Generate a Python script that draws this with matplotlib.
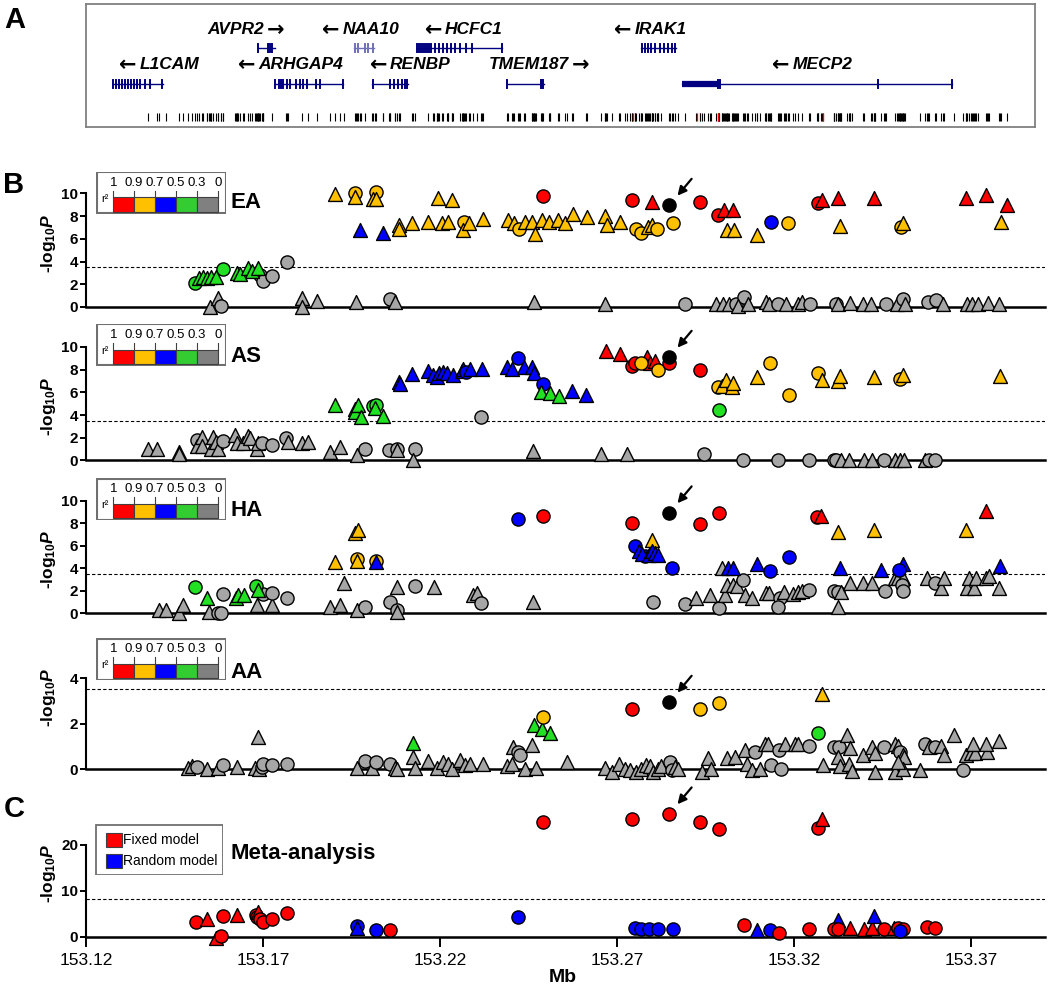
import matplotlib.pyplot as plt
import numpy as np
from matplotlib.patches import Rectangle

plt.rcParams['font.family'] = ['Liberation Sans', 'DejaVu Sans']
plt.rcParams['mathtext.fontset'] = 'custom'
plt.rcParams['mathtext.rm'] = 'Liberation Sans:bold'
plt.rcParams['mathtext.it'] = 'Liberation Sans:bold:italic'
plt.rcParams['mathtext.bf'] = 'Liberation Sans:bold'

# ---------------- data ----------------
index_snp = 153.2848

# EA
ea_pos = [153.1550, 153.1573, 153.1581, 153.1809, 153.1809, 153.1852, 153.1692, 153.1700, 153.1725, 153.1767,
          153.1962, 153.2058, 153.2074, 153.2465, 153.2666, 153.2892, 153.2980, 153.2999, 153.3015, 153.3037,
          153.3060, 153.3043, 153.3069, 153.3120, 153.3130, 153.3156, 153.3178, 153.3210, 153.3223, 153.3245,
          153.3318, 153.3325, 153.3357, 153.3395, 153.3417, 153.3459, 153.3491, 153.3508, 153.3514, 153.3578,
          153.3600, 153.3622, 153.3690, 153.3702, 153.3719, 153.3747, 153.3779,
          153.1508, 153.1519, 153.1531, 153.1542, 153.1553, 153.1567, 153.1586, 153.1626, 153.1635, 153.1658,
          153.1669, 153.1686,
          153.1903, 153.1960, 153.1960, 153.2019, 153.2010, 153.2019, 153.1975, 153.2039, 153.2084, 153.2084,
          153.2122, 153.2167, 153.2206, 153.2222, 153.2269, 153.2265, 153.2282, 153.2321, 153.2193, 153.2235,
          153.2491, 153.2391, 153.2408, 153.2423, 153.2440, 153.2461, 153.2468, 153.2489, 153.2508, 153.2532,
          153.2553, 153.2576, 153.2615, 153.2666, 153.2672, 153.2708, 153.2755, 153.2768, 153.2788, 153.2800,
          153.2813, 153.2858, 153.2743, 153.2798, 153.2934, 153.2986, 153.3002, 153.3027, 153.3011, 153.3031,
          153.3095, 153.3135, 153.3184, 153.3267, 153.3280, 153.3325, 153.3329, 153.3427, 153.3501, 153.3508,
          153.3687, 153.3743, 153.3802, 153.3785]
ea_logp = [0.0, 0.8, 0.05, 0.8, 0.0, 0.5, 2.8, 2.3, 2.7, 4.0,
           0.4, 0.7, 0.45, 0.45, 0.25, 0.3, 0.25, 0.25, 0.3, 0.3,
           0.9, 0.1, 0.25, 0.45, 0.3, 0.25, 0.3, 0.25, 0.45, 0.3,
           0.3, 0.25, 0.35, 0.3, 0.3, 0.3, 0.3, 0.7, 0.25, 0.45,
           0.6, 0.3, 0.25, 0.3, 0.25, 0.35, 0.25,
           2.15, 2.55, 2.6, 2.55, 2.65, 2.6, 3.3, 3.0, 2.9, 3.4,
           3.2, 3.4,
           9.9, 10.0, 9.7, 10.15, 9.5, 9.5, 6.8, 6.5, 7.2, 6.9,
           7.4, 7.5, 7.35, 7.5, 7.5, 6.8, 7.35, 7.7, 9.55, 9.4,
           9.75, 7.65, 7.4, 6.9, 7.5, 7.5, 6.4, 7.65, 7.5, 7.65,
           7.4, 8.2, 7.9, 8.0, 7.2, 7.5, 6.9, 6.5, 7.05, 7.2,
           6.9, 7.4, 9.4, 9.25, 9.2, 8.1, 8.5, 8.5, 6.8, 6.8,
           6.3, 7.5, 7.35, 9.15, 9.4, 9.55, 7.1, 9.6, 7.05, 7.4,
           9.6, 9.85, 8.95, 7.5]
ea_kind = ['k^', 'k^', 'ko', 'k^', 'k^', 'k^', 'ko', 'ko', 'ko', 'ko',
           'k^', 'ko', 'k^', 'k^', 'k^', 'ko', 'k^', 'k^', 'k^', 'ko',
           'ko', 'k^', 'k^', 'k^', 'k^', 'ko', 'k^', 'k^', 'k^', 'ko',
           'ko', 'k^', 'k^', 'k^', 'k^', 'ko', 'k^', 'ko', 'k^', 'ko',
           'ko', 'k^', 'k^', 'k^', 'k^', 'k^', 'k^',
           'go', 'g^', 'g^', 'g^', 'g^', 'g^', 'go', 'g^', 'g^', 'g^',
           'g^', 'g^',
           'y^', 'yo', 'y^', 'yo', 'y^', 'y^', 'b^', 'b^', 'y^', 'y^',
           'y^', 'y^', 'y^', 'y^', 'yo', 'y^', 'y^', 'y^', 'y^', 'y^',
           'ro', 'y^', 'y^', 'yo', 'y^', 'y^', 'y^', 'y^', 'y^', 'y^',
           'y^', 'y^', 'y^', 'y^', 'y^', 'y^', 'yo', 'yo', 'y^', 'y^',
           'yo', 'yo', 'ro', 'r^', 'ro', 'ro', 'r^', 'r^', 'y^', 'y^',
           'y^', 'bo', 'yo', 'ro', 'r^', 'r^', 'y^', 'r^', 'yo', 'y^',
           'r^', 'r^', 'r^', 'y^']
ea_index_logp = 8.95

# AS
as_pos = [153.1376, 153.1400, 153.1464, 153.1464, 153.1513, 153.1513, 153.1527, 153.1527, 153.1552, 153.1559,
          153.1567, 153.1574, 153.1586, 153.1621, 153.1627, 153.1644, 153.1658, 153.1663, 153.1682, 153.1687,
          153.1696, 153.1725, 153.1765, 153.1771, 153.1809, 153.1828, 153.1889, 153.1918, 153.1965, 153.1988,
          153.2057, 153.2078, 153.2078, 153.2129, 153.2125, 153.2316, 153.2462, 153.2655, 153.2727, 153.2946,
          153.3056, 153.3156, 153.3242, 153.3312, 153.3318, 153.3332, 153.3356, 153.3397, 153.3419, 153.3455,
          153.3485, 153.3499, 153.3512, 153.3571, 153.3581, 153.3598,
          153.1903, 153.1960, 153.1960, 153.1968, 153.1977, 153.2010, 153.2019, 153.2016, 153.2040,
          153.2084, 153.2087, 153.2122, 153.2167, 153.2181, 153.2192, 153.2198, 153.2209, 153.2219, 153.2236,
          153.2261, 153.2266, 153.2273, 153.2285, 153.2318, 153.2388, 153.2403, 153.2421, 153.2437, 153.2459,
          153.2466, 153.2491, 153.2485, 153.2510, 153.2536, 153.2574, 153.2612,
          153.2669, 153.2708, 153.2741, 153.2751, 153.2784, 153.2793, 153.2807, 153.2768, 153.2815, 153.2848,
          153.2934, 153.2984, 153.2998, 153.3008, 153.3025, 153.3029, 153.2989, 153.3096, 153.3132, 153.3185,
          153.3268, 153.3280, 153.3323, 153.3331, 153.3426, 153.3499, 153.3509, 153.3783]
as_logp = [1.0, 1.0, 0.75, 0.6, 1.8, 1.25, 2.1, 1.3, 1.05, 2.1,
           1.65, 1.05, 1.75, 2.25, 1.5, 1.55, 2.15, 1.95, 1.05, 1.55,
           1.5, 1.35, 1.95, 1.65, 1.5, 1.65, 0.75, 1.2, 0.5, 1.05,
           0.9, 1.05, 0.9, 1.05, 0.0, 3.8, 0.8, 0.6, 0.55, 0.6,
           0.0, 0.0, 0.0, 0.0, 0.0, 0.05, 0.05, 0.05, 0.05, 0.0,
           0.05, 0.05, 0.05, 0.05, 0.0, 0.0,
           4.85, 4.5, 4.3, 4.85, 3.8, 4.8, 4.85, 4.65, 3.9,
           6.9, 6.75, 7.65, 7.9, 7.5, 7.4, 7.7, 7.8, 7.7, 7.5,
           7.9, 8.1, 7.8, 8.1, 8.1, 8.2, 8.1, 9.05, 8.2, 8.2,
           7.7, 6.75, 6.05, 5.95, 5.65, 6.15, 5.75,
           9.65, 9.35, 8.3, 8.6, 9.1, 8.6, 8.8, 8.6, 7.95, 8.6,
           8.0, 6.45, 6.55, 7.05, 6.45, 6.85, 4.45, 7.35, 8.55, 5.75,
           7.7, 7.05, 7.0, 7.45, 7.35, 7.2, 7.5, 7.45]
as_kind = ['k^', 'k^', 'k^', 'k^', 'ko', 'k^', 'k^', 'k^', 'k^', 'k^',
           'k^', 'k^', 'ko', 'k^', 'k^', 'k^', 'k^', 'k^', 'k^', 'k^',
           'ko', 'ko', 'ko', 'k^', 'k^', 'k^', 'k^', 'k^', 'k^', 'ko',
           'ko', 'ko', 'k^', 'ko', 'k^', 'ko', 'k^', 'k^', 'k^', 'ko',
           'ko', 'ko', 'ko', 'ko', 'ko', 'k^', 'k^', 'k^', 'k^', 'ko',
           'k^', 'k^', 'k^', 'k^', 'ko', 'ko',
           'g^', 'g^', 'g^', 'g^', 'g^', 'go', 'go', 'g^', 'g^',
           'b^', 'b^', 'b^', 'b^', 'b^', 'b^', 'b^', 'b^', 'b^', 'b^',
           'b^', 'b^', 'bo', 'b^', 'b^', 'b^', 'b^', 'bo', 'b^', 'b^',
           'b^', 'bo', 'g^', 'g^', 'g^', 'b^', 'b^',
           'r^', 'r^', 'ro', 'ro', 'r^', 'r^', 'r^', 'yo', 'yo', 'ro',
           'ro', 'yo', 'y^', 'y^', 'y^', 'y^', 'go', 'y^', 'yo', 'yo',
           'yo', 'y^', 'y^', 'y^', 'y^', 'yo', 'y^', 'y^']
as_index_logp = 9.1

# HA
ha_pos = [153.1407, 153.1426, 153.1464, 153.1475, 153.1548, 153.1574, 153.1580, 153.1588, 153.1682, 153.1699,
          153.1725, 153.1725, 153.1767, 153.1889, 153.1918, 153.1929, 153.1965, 153.1988, 153.2059, 153.2078,
          153.2078, 153.2078, 153.2129, 153.2183, 153.2294, 153.2305, 153.2316, 153.2462, 153.2803, 153.2892,
          153.2989, 153.2922, 153.2962, 153.3006, 153.3010, 153.3029, 153.3039, 153.3056, 153.3061, 153.3080,
          153.3121, 153.3130, 153.3161, 153.3156, 153.3172, 153.3197, 153.3210, 153.3223, 153.3242, 153.2997,
          153.3313, 153.3323, 153.3334, 153.3323, 153.3359, 153.3395, 153.3419, 153.3457, 153.3485, 153.3495,
          153.3509, 153.3505, 153.3509, 153.3576, 153.3598, 153.3614, 153.3624, 153.3690, 153.3709, 153.3695,
          153.3714, 153.3743, 153.3751, 153.3779,
          153.1508, 153.1541, 153.1624, 153.1630, 153.1646, 153.1680, 153.1687,
          153.1903, 153.1960, 153.1968, 153.1965, 153.1965, 153.2019, 153.2019, 153.2421, 153.2491, 153.2741,
          153.2752, 153.2779, 153.2799, 153.2762, 153.2771, 153.2789, 153.2798, 153.2798, 153.2808, 153.2817,
          153.2855, 153.2934, 153.2987, 153.3013, 153.3029, 153.3096, 153.3132, 153.3185, 153.3266, 153.3277,
          153.3323, 153.3426, 153.3686, 153.3743, 153.3331, 153.3447, 153.3509, 153.3497, 153.3783]
ha_logp = [0.3, 0.3, 0.0, 0.75, 0.15, 0.05, 0.05, 1.75, 0.75, 1.75,
           0.75, 1.8, 1.4, 0.6, 0.75, 2.7, 0.3, 0.55, 1.05, 0.3,
           0.15, 2.3, 2.45, 2.3, 1.65, 1.8, 0.9, 1.05, 1.05, 0.8,
           0.5, 1.4, 1.65, 1.6, 2.55, 2.55, 2.4, 3.0, 1.6, 1.35,
           1.8, 1.8, 1.35, 0.6, 1.9, 1.7, 1.9, 1.95, 2.1, 4.0,
           2.0, 1.9, 1.9, 0.6, 2.7, 2.7, 2.7, 1.95, 3.15, 3.15,
           3.15, 2.55, 1.95, 3.15, 2.7, 2.25, 3.15, 2.25, 2.25, 3.1,
           3.1, 3.15, 3.3, 2.25,
           2.3, 1.4, 1.35, 1.65, 1.65, 2.4, 2.1,
           4.55, 7.15, 7.4, 4.85, 4.7, 4.7, 4.55, 8.4, 8.65, 8.05,
           5.95, 5.1, 5.15, 5.55, 5.25, 5.2, 6.55, 5.55, 5.4, 5.2,
           4.0, 7.95, 8.9, 4.0, 4.0, 4.4, 3.75, 5.0, 8.6, 8.65,
           7.25, 7.45, 7.45, 9.15, 4.05, 3.9, 4.35, 3.9, 4.2]
ha_kind = ['k^', 'k^', 'k^', 'k^', 'k^', 'ko', 'ko', 'ko', 'k^', 'ko',
           'k^', 'ko', 'ko', 'k^', 'k^', 'k^', 'k^', 'ko', 'ko', 'ko',
           'k^', 'k^', 'ko', 'k^', 'k^', 'k^', 'ko', 'k^', 'ko', 'ko',
           'ko', 'k^', 'k^', 'k^', 'k^', 'k^', 'k^', 'ko', 'k^', 'k^',
           'k^', 'k^', 'ko', 'ko', 'k^', 'k^', 'k^', 'k^', 'ko', 'k^',
           'ko', 'ko', 'k^', 'k^', 'k^', 'k^', 'k^', 'ko', 'k^', 'k^',
           'k^', 'ko', 'ko', 'k^', 'ko', 'k^', 'k^', 'k^', 'k^', 'k^',
           'k^', 'k^', 'k^', 'k^',
           'go', 'g^', 'g^', 'g^', 'g^', 'go', 'g^',
           'y^', 'y^', 'y^', 'yo', 'y^', 'yo', 'b^', 'bo', 'ro', 'ro',
           'bo', 'bo', 'bo', 'b^', 'b^', 'b^', 'y^', 'b^', 'b^', 'b^',
           'bo', 'ro', 'ro', 'b^', 'b^', 'b^', 'bo', 'bo', 'ro', 'r^',
           'y^', 'y^', 'y^', 'r^', 'b^', 'b^', 'b^', 'bo', 'b^']
ha_index_logp = 8.95

# AA
aa_pos = [153.1489, 153.1499, 153.1513, 153.1541, 153.1574, 153.1588, 153.1627, 153.1677, 153.1690, 153.1696,
          153.1701, 153.1725, 153.1767, 153.1687, 153.1965, 153.1988, 153.2007, 153.2019, 153.2059, 153.2073,
          153.2078, 153.2125, 153.2129, 153.2167, 153.2191, 153.2209, 153.2223, 153.2233, 153.2256, 153.2271,
          153.2285, 153.2321, 153.2388, 153.2403, 153.2407, 153.2421, 153.2426, 153.2459, 153.2440, 153.2472,
          153.2560, 153.2665, 153.2686, 153.2705, 153.2722, 153.2736, 153.2755, 153.2769, 153.2781, 153.2793,
          153.2803, 153.2817, 153.2825, 153.2851, 153.2855, 153.2865, 153.2873, 153.2941, 153.2956, 153.2965,
          153.3010, 153.3032, 153.3061, 153.3067, 153.3080, 153.3089, 153.3104, 153.3118, 153.3127, 153.3134,
          153.3159, 153.3163, 153.3175, 153.3204, 153.3210, 153.3242, 153.3283, 153.3314, 153.3328, 153.3323,
          153.3331, 153.3350, 153.3356, 153.3359, 153.3363, 153.3395, 153.3419, 153.3428, 153.3430, 153.3455,
          153.3485, 153.3495, 153.3500, 153.3509, 153.3512, 153.3485, 153.3509, 153.3495, 153.3557, 153.3571,
          153.3581, 153.3598, 153.3614, 153.3624, 153.3652, 153.3676, 153.3686, 153.3700, 153.3712, 153.3705,
          153.3745, 153.3743, 153.3779,
          153.2125, 153.2466, 153.2488, 153.2512, 153.2491, 153.2743, 153.2935, 153.2987, 153.3280, 153.3268]
aa_logp = [0.05, 0.15, 0.1, 0.0, 0.05, 0.2, 0.1, 0.05, 0.0, 0.1,
           0.25, 0.2, 0.25, 1.4, 0.05, 0.35, 0.05, 0.3, 0.25, 0.05,
           0.0, 0.55, 0.05, 0.35, 0.05, 0.3, 0.25, 0.0, 0.4, 0.2,
           0.25, 0.25, 0.15, 0.25, 1.0, 0.75, 0.65, 1.07, 0.0, 0.05,
           0.3, 0.06, -0.1, 0.25, 0.03, -0.05, -0.1, 0.03, 0.18, 0.15,
           -0.1, 0.03, 0.15, 0.33, -0.05, 0.11, 0.03, -0.1, 0.48, 0.0,
           0.48, 0.52, 0.85, 0.25, -0.04, 0.76, 0.0, 1.1, 1.1, 0.21,
           0.85, 0.03, 1.1, 1.1, 1.1, 1.04, 0.21, 1.0, 1.0, 0.55,
           0.15, 1.5, 0.25, 0.95, -0.08, 0.62, 1.0, 0.7, -0.1, 1.0,
           1.1, 1.04, 0.78, 0.62, 0.55, -0.1, 0.03, 0.33, -0.04, 1.1,
           1.0, 1.0, 1.04, 0.65, 1.5, -0.04, 0.65, 0.7, 0.7, 1.1,
           0.76, 1.1, 1.25,
           1.17, 1.95, 1.75, 1.6, 2.3, 2.65, 2.65, 2.9, 3.3, 1.6]
aa_kind = ['k^', 'k^', 'ko', 'k^', 'k^', 'ko', 'k^', 'k^', 'k^', 'ko',
           'ko', 'ko', 'ko', 'k^', 'k^', 'ko', 'k^', 'ko', 'ko', 'k^',
           'k^', 'k^', 'k^', 'k^', 'k^', 'k^', 'k^', 'k^', 'k^', 'k^',
           'k^', 'k^', 'k^', 'k^', 'k^', 'ko', 'ko', 'k^', 'k^', 'k^',
           'k^', 'k^', 'k^', 'k^', 'k^', 'k^', 'k^', 'k^', 'k^', 'k^',
           'k^', 'k^', 'k^', 'ko', 'ko', 'k^', 'k^', 'k^', 'k^', 'k^',
           'k^', 'k^', 'k^', 'k^', 'k^', 'ko', 'k^', 'k^', 'k^', 'ko',
           'ko', 'ko', 'k^', 'k^', 'k^', 'ko', 'k^', 'ko', 'ko', 'k^',
           'k^', 'k^', 'k^', 'k^', 'k^', 'k^', 'k^', 'k^', 'k^', 'ko',
           'k^', 'k^', 'ko', 'k^', 'k^', 'k^', 'k^', 'k^', 'k^', 'ko',
           'k^', 'ko', 'k^', 'k^', 'k^', 'ko', 'k^', 'k^', 'k^', 'k^',
           'k^', 'k^', 'k^',
           'g^', 'g^', 'g^', 'g^', 'yo', 'ro', 'yo', 'yo', 'y^', 'go']
aa_index_logp = 2.95

# Meta-analysis (r = fixed model, b = random model)
meta_pos = [153.1511, 153.1541, 153.1588, 153.1627, 153.1680, 153.1684, 153.1687, 153.1692, 153.1701, 153.1725,
            153.1767, 153.1567, 153.1580, 153.1965, 153.1966, 153.2019, 153.2059, 153.2421,
            153.2751, 153.2769, 153.2791, 153.2815, 153.2857, 153.3058, 153.3096, 153.3132, 153.3159, 153.3242,
            153.3323, 153.3314, 153.3323, 153.3359, 153.3397, 153.3419, 153.3426, 153.3455, 153.3483, 153.3495,
            153.3509, 153.3500, 153.3576, 153.3598,
            153.2491, 153.2743, 153.2848, 153.2935, 153.2987, 153.3268, 153.3280]
meta_logp = [3.3, 3.8, 4.5, 4.7, 4.7, 4.35, 5.45, 3.8, 3.3, 3.8,
             5.1, -0.35, 0.15, 2.35, 1.85, 1.45, 1.45, 4.2,
             1.9, 1.75, 1.75, 1.6, 1.75, 2.5, 1.4, 1.4, 0.9, 1.6,
             3.6, 1.75, 1.6, 1.9, 1.6, 1.9, 4.55, 1.75, 1.9, 1.9,
             1.75, 1.15, 2.1, 1.9,
             25.0, 25.7, 26.8, 25.0, 23.5, 23.7, 25.7]
meta_kind = ['ro', 'r^', 'ro', 'r^', 'ro', 'ro', 'r^', 'ro', 'ro', 'ro',
             'ro', 'r^', 'ro', 'bo', 'b^', 'bo', 'ro', 'bo',
             'bo', 'bo', 'bo', 'bo', 'bo', 'ro', 'b^', 'bo', 'ro', 'ro',
             'b^', 'ro', 'ro', 'r^', 'r^', 'r^', 'b^', 'ro', 'r^', 'ro',
             'ro', 'bo', 'ro', 'ro',
             'ro', 'ro', 'ro', 'ro', 'ro', 'ro', 'r^']
meta_index_logp = 26.8

# genes (panel A)
gene_names = ['AVPR2', 'NAA10', 'HCFC1', 'IRAK1', 'L1CAM', 'ARHGAP4', 'RENBP', 'TMEM187', 'MECP2']
gene_strand = ['+', '-', '-', '-', '-', '-', '-', '+', '-']
gene_row = [0, 0, 0, 0, 1, 1, 1, 1, 1]
gene_start = [153.1686, 153.1956, 153.2134, 153.2769, 153.1275, 153.1733, 153.2009, 153.2389, 153.2883]
gene_end = [153.1733, 153.2013, 153.2375, 153.2868, 153.1417, 153.1926, 153.2111, 153.2493, 153.3647]
gene_label_x = [153.1656, 153.1970, 153.2262, 153.2788, 153.1402, 153.1773, 153.2111, 153.2485, 153.3247]
gene_exons = [
    [153.1686, 153.1714, 153.1718, 153.1722, 153.1726],
    [153.1960, 153.1969, 153.1989, 153.1997, 153.2011],
    [153.2135, 153.2141, 153.2146, 153.2152, 153.2158, 153.2163, 153.2169, 153.2175, 153.2186, 153.2197,
     153.2208, 153.2220, 153.2231, 153.2242, 153.2256, 153.2273, 153.2290, 153.2375],
    [153.2771, 153.2779, 153.2788, 153.2796, 153.2807, 153.2821, 153.2832, 153.2844, 153.2855, 153.2863],
    [153.1276, 153.1285, 153.1293, 153.1302, 153.1310, 153.1319, 153.1327, 153.1336, 153.1344, 153.1353,
     153.1367, 153.1381, 153.1415],
    [153.1734, 153.1745, 153.1751, 153.1756, 153.1768, 153.1776, 153.1793, 153.1805, 153.1813, 153.1824,
     153.1850, 153.1861, 153.1926],
    [153.2011, 153.2059, 153.2070, 153.2082, 153.2093, 153.2101, 153.2107],
    [153.2389, 153.2484, 153.2487, 153.2490],
    [153.2985, 153.2991, 153.3438, 153.3647],
]
mecp2_utr = (153.2883, 153.2985)
red_snp_ticks = [153.2745, 153.2925, 153.2985, 153.3281]

r2_labels = ['1', '0.9', '0.7', '0.5', '0.3', '0']
r2_colors = ['#ff0000', '#ffc000', '#0000ff', '#33cc33', '#808080']

fill = {'r': '#ff0000', 'y': '#ffc000', 'b': '#0000ff', 'g': '#22e022', 'k': '#a6a6a6', 'x': '#000000'}

# ---------------- figure ----------------
W, H = 1050, 990
fig = plt.figure(figsize=(W / 100, H / 100), dpi=100)
x0, x1 = 153.12, 153.12 + (1045 - 86) / 3540.0


def fax(left, top, right, bottom):
    return fig.add_axes([left / W, 1 - bottom / H, (right - left) / W, (bottom - top) / H])


def points(ax, pos, logp, kind):
    for x, y, k in zip(pos, logp, kind):
        ax.scatter(x, y, s=100 if k[1] == '^' else 90, marker=k[1], c=fill[k[0]],
                   edgecolors='k', linewidths=1.0, clip_on=False, zorder=3)


def frame(ax, top, ticks, thr):
    ax.set_xlim(x0, x1)
    ax.set_ylim(0, top)
    ax.set_facecolor('none')
    for s in ['top', 'right']:
        ax.spines[s].set_visible(False)
    ax.spines['left'].set_linewidth(1.5)
    ax.spines['bottom'].set_linewidth(1.8)
    ax.set_yticks(ticks)
    ax.set_yticklabels([str(t) for t in ticks], fontweight='bold')
    ax.tick_params(axis='y', direction='out', length=4, width=1.4, labelsize=11, pad=1.5)
    ax.axhline(thr, ls=(0, (3, 2)), lw=0.8, color='k', zorder=1)


def arrow(ax, x, y):
    ax.annotate('', xy=(x, y), xytext=(16, 19), textcoords='offset points',
                arrowprops=dict(arrowstyle='-|>', color='k', lw=1.6, shrinkA=0, shrinkB=9,
                                mutation_scale=13), annotation_clip=False)


def r2_box(top):
    b = fax(96, top, 226, top + 42)
    b.set_xlim(0, 130)
    b.set_ylim(42, 0)
    b.axis('off')
    b.add_patch(Rectangle((0.5, 0.5), 129, 41, fill=False, ec='#707070', lw=1.5))
    edges = [17.3, 38, 59, 79.7, 100.7, 122.3]
    for i, c in enumerate(r2_colors):
        b.add_patch(Rectangle((edges[i], 25.7), edges[i + 1] - edges[i], 14.3, fc=c, ec='#404040', lw=0.8))
    for e, lab in zip(edges, r2_labels):
        b.plot([e, e], [19, 25.7], color='#404040', lw=0.8)
        b.text(e, 11, lab, ha='center', va='center', fontsize=9.5)
    b.text(9, 27, 'r²', ha='center', va='center', fontsize=8)


ylab = r'-log$_{10}$$\it{P}$'

# panel A
ga = fax(86, 4, 1035, 127)
ga.set_xlim(153.12, 153.12 + (1035 - 86) / 3540.0)
ga.set_ylim(0, 1)
ga.set_xticks([])
ga.set_yticks([])
for s in ga.spines.values():
    s.set_color('#808080')
    s.set_linewidth(1.3)
label_y = [0.79, 0.505]
body_y = [0.642, 0.35]
navy = '#000080'
shift = 0.0034
for name, st, row, a, b_, lx, ex in zip(gene_names, gene_strand, gene_row, gene_start, gene_end,
                                        gene_label_x, gene_exons):
    col = '#7070b8' if name == 'NAA10' else navy
    ga.plot([a, b_], [body_y[row]] * 2, color=col, lw=1.0)
    for e in ex:
        ga.plot([e, e], [body_y[row] - 0.035, body_y[row] + 0.035], color=col, lw=1.4)
    if st == '+':
        t = ga.text(lx - shift, label_y[row], name, ha='center', va='center', fontsize=12.5,
                    fontweight='bold', fontstyle='italic')
        ga.annotate('→', xy=(1, 0.5), xycoords=t, xytext=(2, 0), textcoords='offset points',
                    ha='left', va='center', fontsize=15, fontweight='bold', family='DejaVu Sans')
    else:
        t = ga.text(lx + shift, label_y[row], name, ha='center', va='center', fontsize=12.5,
                    fontweight='bold', fontstyle='italic')
        ga.annotate('←', xy=(0, 0.5), xycoords=t, xytext=(-2, 0), textcoords='offset points',
                    ha='right', va='center', fontsize=15, fontweight='bold', family='DejaVu Sans')
ga.plot(mecp2_utr, [body_y[1]] * 2, color=navy, lw=4.5, solid_capstyle='butt')
snp_ticks = np.unique(np.round(np.concatenate([ea_pos, as_pos, ha_pos, aa_pos]), 4))
ga.vlines(snp_ticks, 0.05, 0.115, color='k', lw=0.8)
ga.vlines(red_snp_ticks, 0.05, 0.115, color='red', lw=0.9)

# panel B
panels = [
    (ea_pos, ea_logp, ea_kind, ea_index_logp, 'EA', 193.3, 307, 10, [0, 2, 4, 6, 8, 10], 3.5, 171.7, 203, 243),
    (as_pos, as_logp, as_kind, as_index_logp, 'AS', 347, 460.5, 10, [0, 2, 4, 6, 8, 10], 3.5, 324, 356, 406),
    (ha_pos, ha_logp, ha_kind, ha_index_logp, 'HA', 501, 613.3, 10, [0, 2, 4, 6, 8, 10], 3.5, 478.3, 510, 559),
    (aa_pos, aa_logp, aa_kind, aa_index_logp, 'AA', 678.3, 769.3, 4, [0, 2, 4], 3.55, 638.3, 672, 697),
]
for pos, lp, kd, ilp, name, top, bot, ymax, ticks, thr, boxtop, namey, laby in panels:
    ax = fax(86, top, 1045, bot)
    frame(ax, ymax, ticks, thr)
    ax.set_xticks([])
    points(ax, pos, lp, kd)
    ax.scatter(index_snp, ilp, s=90, marker='o', c='k', edgecolors='k', clip_on=False, zorder=4)
    arrow(ax, index_snp, ilp)
    r2_box(boxtop)
    fig.text(230 / W, 1 - namey / H, name, fontsize=16, fontweight='bold', va='center')
    fig.text(49 / W, 1 - laby / H, ylab, rotation=90, fontsize=12.5, fontweight='bold',
             ha='center', va='center')

# panel C
cx = fax(86, 845, 1045, 936.7)
frame(cx, 20, [0, 10, 20], 8.3)
points(cx, meta_pos, meta_logp, meta_kind)
arrow(cx, index_snp, meta_index_logp)
xt = [153.12, 153.17, 153.22, 153.27, 153.32, 153.37]
cx.set_xticks(xt)
cx.set_xticklabels(['%.2f' % t for t in xt])
cx.tick_params(axis='x', direction='out', length=7, width=1.4, labelsize=12.5, pad=5)
fig.text(49 / W, 1 - 873 / H, ylab, rotation=90, fontsize=12.5, fontweight='bold', ha='center', va='center')
fig.text(230 / W, 1 - 853 / H, 'Meta-analysis', fontsize=16, fontweight='bold', va='center')
fig.text(563 / W, 1 - 978 / H, 'Mb', fontsize=14, fontweight='bold', ha='center', va='center')

lg = fax(95, 824, 223, 875)
lg.set_xlim(0, 128)
lg.set_ylim(51, 0)
lg.axis('off')
lg.add_patch(Rectangle((0.5, 0.5), 127, 50, fill=False, ec='#707070', lw=1.3))
lg.add_patch(Rectangle((11, 9), 15.5, 14, fc='#ff0000', ec='#404040', lw=0.8))
lg.add_patch(Rectangle((11, 30), 15.5, 14, fc='#0000ff', ec='#404040', lw=0.8))
lg.text(28, 16, 'Fixed model', fontsize=10, va='center')
lg.text(28, 37, 'Random model', fontsize=10, va='center')

# panel letters
fig.text(15 / W, 1 - 20 / H, 'A', fontsize=21, fontweight='bold', ha='center', va='center')
fig.text(14 / W, 1 - 185 / H, 'B', fontsize=21, fontweight='bold', ha='center', va='center')
fig.text(14 / W, 1 - 809 / H, 'C', fontsize=21, fontweight='bold', ha='center', va='center')

fig.savefig('out.png', dpi=100)
